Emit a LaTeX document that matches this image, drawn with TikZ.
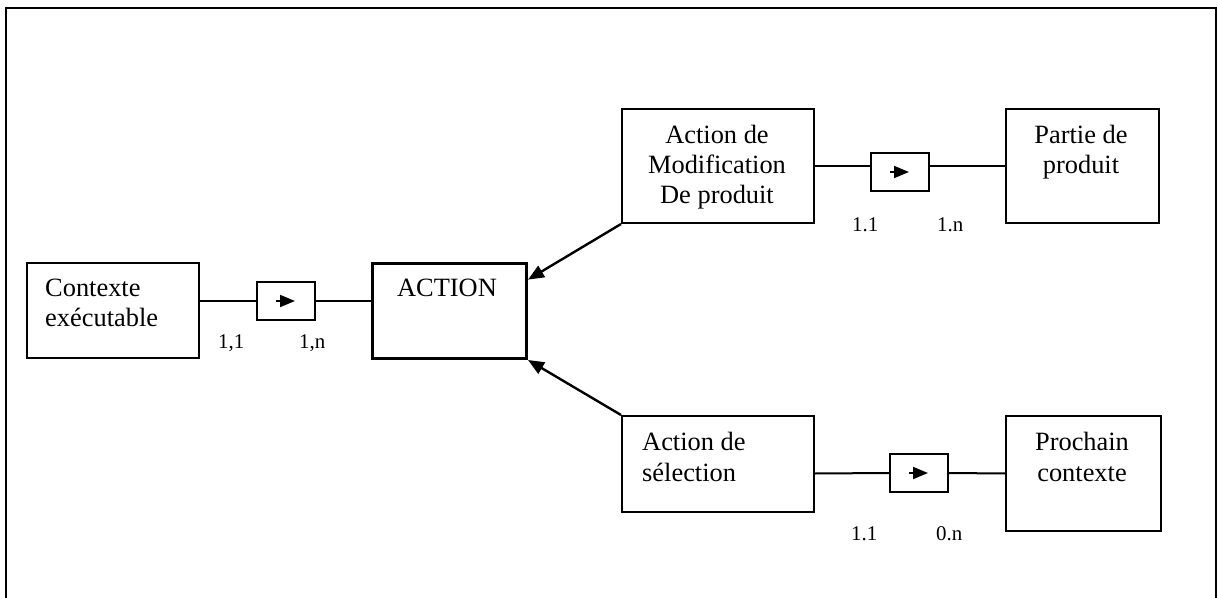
\documentclass[tikz,border=0pt]{standalone}
\usepackage{fontspec}
\setmainfont{Liberation Serif}
\usetikzlibrary{arrows.meta,calc}
\begin{document}
\begin{tikzpicture}[x=1bp,y=-1bp,
  box/.style={draw,line width=2bp,rectangle,inner sep=0pt,anchor=north west},
  mainbox/.style={box,line width=3bp},
  card/.style={box,minimum width=58bp,minimum height=38bp},
  txt/.style={font=\fontsize{26.5}{30.5}\selectfont,inner sep=0pt},
  mult/.style={font=\fontsize{21}{24}\selectfont,inner sep=0pt,anchor=base west},
  line/.style={line width=2bp},
  link/.style={line width=2.4bp,-{Triangle[length=16bp,width=13bp]}},
  dir/.style={line width=1.8bp,-{Triangle[length=15bp,width=12bp]}}
]
\useasboundingbox (0,0) rectangle (1218,598);
% outer frame
\draw[line width=2.2bp] (6,640) -- (6,8) -- (1216,8) -- (1216,640);

% entity boxes
\node[box,minimum width=172bp,minimum height=95bp] (ctx) at (26,262) {};
\node[mainbox,minimum width=154bp,minimum height=95bp] (act) at (371,262) {};
\node[box,minimum width=192bp,minimum height=114bp] (mod) at (621,108) {};
\node[box,minimum width=153bp,minimum height=114bp] (part) at (1005,108) {};
\node[box,minimum width=192bp,minimum height=96bp] (sel) at (621,415) {};
\node[box,minimum width=155bp,minimum height=115bp] (next) at (1005,415) {};

% relation cards
\node[card] (r1) at (256,281) {};
\node[card] (r2) at (870,152) {};
\node[card] (r3) at (889,453) {};

% box texts (base anchor sits on the last line)
\node[txt,anchor=base west,align=left] (ctxT) at (45,327) {Contexte\\exécutable};
\node[txt,anchor=base] (actT) at (447,297) {ACTION};
\node[txt,anchor=base,align=center] (modT) at (717,204) {Action de\\Modification\\De produit};
\node[txt,anchor=base,align=center] (partT) at (1081,174) {Partie de\\produit};
\node[txt,anchor=base west,align=left] (selT) at (642,481) {Action de\\sélection};
\node[txt,anchor=base,align=center] (nextT) at (1082,481) {Prochain\\contexte};

% connectors through the cards
\draw[line] (r1.west -| ctx.east) -- (r1.west);
\draw[line] (r1.east) -- (r1.east -| act.west);
\draw[line] (mod.east) -- (mod.east -| r2.west);
\draw[line] (part.west -| r2.east) -- (part.west);
\draw[line] (next.west -| sel.east) -- (r3.west);
\draw[line] (r3.east) -- (next.west);

% direction marks inside the cards
\draw[dir] ([xshift=-10bp]r1.center) -- ([xshift=9bp]r1.center);
\draw[dir] ([xshift=-10bp]r2.center) -- ([xshift=9bp]r2.center);
\draw[dir] ([xshift=-10bp]r3.center) -- ([xshift=9bp]r3.center);

% cardinalities
\node[mult] (c1) at (218,349) {1,1};
\node[mult] (c2) at (299,349) {1,n};
\node[mult] (c3) at (852,232) {1.1};
\node[mult] (c4) at (937,232) {1.n};
\node[mult] (c5) at (851,540) {1.1};
\node[mult] (c6) at (936,540) {0.n};

% specialisation arrows
\coordinate (actHit) at ($(act.north east)!0.18!(act.south east)$);
\draw[link] (mod.south west) -- (actHit);
\draw[link] (sel.north west) -- (act.south east);
\end{tikzpicture}
\end{document}
